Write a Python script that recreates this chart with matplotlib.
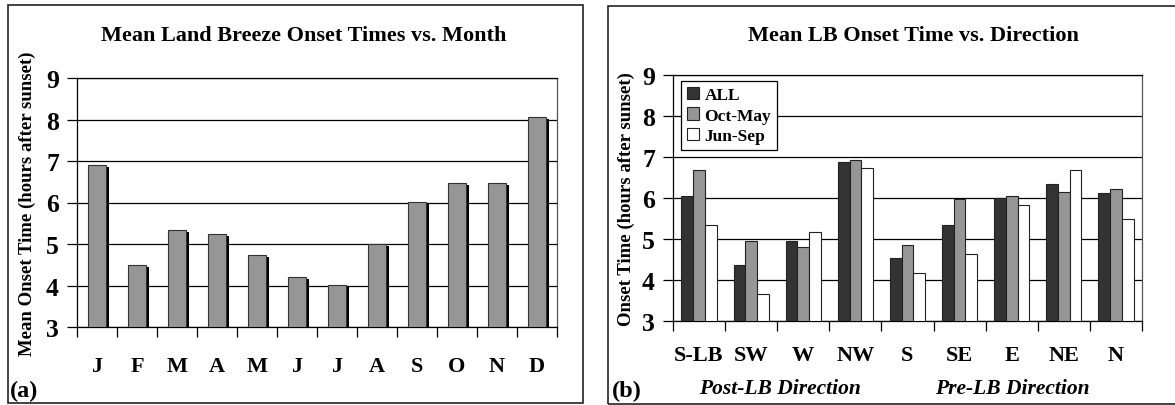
import numpy as np
import matplotlib
matplotlib.use('Agg')
import matplotlib.pyplot as plt
from matplotlib.patches import Rectangle

plt.rcParams['font.family'] = ['Liberation Serif', 'DejaVu Serif']
plt.rcParams['font.weight'] = 'bold'
plt.rcParams['axes.labelweight'] = 'bold'

## panel (a) data
months = ['J', 'F', 'M', 'A', 'M', 'J', 'J', 'A', 'S', 'O', 'N', 'D']
month_onset = [6.90, 4.49, 5.34, 5.24, 4.74, 4.20, 4.02, 5.00, 6.02, 6.47, 6.47, 8.07]

## panel (b) data
directions = ['S-LB', 'SW', 'W', 'NW', 'S', 'SE', 'E', 'NE', 'N']
onset_all = [6.06, 4.37, 4.95, 6.88, 4.54, 5.35, 5.99, 6.34, 6.11]
onset_octmay = [6.69, 4.95, 4.80, 6.93, 4.85, 5.98, 6.06, 6.15, 6.22]
onset_junsep = [5.33, 3.66, 5.16, 6.72, 4.18, 4.63, 5.82, 6.69, 5.48]
series_names = ['ALL', 'Oct-May', 'Jun-Sep']
series_colors = ['#333333', '#969696', '#ffffff']

fig = plt.figure(figsize=(11.75, 4.06), dpi=100)

# outer frames
fig.patches.append(Rectangle((8/1175, 2/406), (583-8)/1175, (404-6)/406,
                             transform=fig.transFigure, fill=False,
                             edgecolor='#222222', lw=1.2))
fig.patches.append(Rectangle((608/1175, 1.5/406), (1180-608)/1175, (405-7)/406,
                             transform=fig.transFigure, fill=False,
                             edgecolor='#222222', lw=1.2))


def style_axes(ax, n):
    ax.set_xlim(0.5, n + 0.5)
    ax.set_ylim(3, 9)
    ax.set_yticks(np.arange(3, 10, 1))
    ax.yaxis.grid(True, color='black', lw=0.9)
    ax.set_axisbelow(True)
    # ticks on boundaries, labels centred
    ax.set_xticks(np.arange(0.5, n + 1, 1))
    ax.set_xticklabels([])
    ax.tick_params(axis='x', which='major', direction='out', length=7, width=0.9)
    ax.tick_params(axis='y', which='major', direction='out', length=7, width=0.9,
                   labelsize=18.5, pad=6)
    for s in ax.spines.values():
        s.set_linewidth(0.9)
    ax.spines['top'].set_color('black')
    ax.spines['right'].set_color('#555555')


# ---- (a) ----
ax1 = fig.add_axes([77/1175, 1 - 328/406, (557-77)/1175, (328-79)/406])
style_axes(ax1, len(months))
xa = np.arange(1, len(months) + 1)
w = 0.45
# shadow bars
ax1.bar(xa + 0.075, np.array(month_onset) - 0.05 - 3, bottom=3, width=w,
        color='black', lw=0, zorder=2)
ax1.bar(xa, np.array(month_onset) - 3, bottom=3, width=w, color='#969696',
        edgecolor='#333333', lw=0.8, zorder=3)
ax1.set_xticks(xa, minor=True)
ax1.set_xticklabels(months, minor=True)
ax1.tick_params(axis='x', which='minor', length=0, labelsize=16, pad=21)
ax1.set_ylabel('Mean Onset Time (hours after sunset)', fontsize=13.5, labelpad=7)
fig.text(304/1175, 1 - 36/406, 'Mean Land Breeze Onset Times vs. Month',
         ha='center', va='center', fontsize=16)
fig.text(10/1175, 1 - 391/406, '(a)', ha='left', va='center', fontsize=17.5)

# ---- (b) ----
ax2 = fig.add_axes([673/1175, 1 - 322/406, (1142-673)/1175, (322-76)/406])
style_axes(ax2, len(directions))
xb = np.arange(1, len(directions) + 1)
bw = 0.225
for k, vals in enumerate([onset_all, onset_octmay, onset_junsep]):
    ax2.bar(xb + (k - 1) * bw, np.array(vals) - 3, bottom=3, width=bw,
            color=series_colors[k], edgecolor='#222222', lw=0.8, zorder=3,
            label=series_names[k])
ax2.set_xticks(xb, minor=True)
ax2.set_xticklabels(directions, minor=True)
ax2.tick_params(axis='x', which='minor', length=0, labelsize=16, pad=17)
ax2.set_ylabel('Onset Time (hours after sunset)', fontsize=13.5, labelpad=5)
leg = ax2.legend(loc='upper left', bbox_to_anchor=(0.017, 0.976), borderaxespad=0,
                 fancybox=False, edgecolor='black', framealpha=1,
                 handlelength=0.7, handleheight=0.7, handletextpad=0.3,
                 labelspacing=0.25, borderpad=0.35, prop={'size': 12.5, 'weight': 'bold'})
leg.get_frame().set_linewidth(0.9)
fig.text(913/1175, 1 - 36/406, 'Mean LB Onset Time vs. Direction',
         ha='center', va='center', fontsize=16)
fig.text(612/1175, 1 - 391/406, '(b)', ha='left', va='center', fontsize=17.5)
fig.text(780/1175, 1 - 389/406, 'Post-LB Direction', ha='center', va='center',
         fontsize=15.5, style='italic')
fig.text(1012/1175, 1 - 389/406, 'Pre-LB Direction', ha='center', va='center',
         fontsize=15.5, style='italic')

fig.savefig('out.png', dpi=100)
